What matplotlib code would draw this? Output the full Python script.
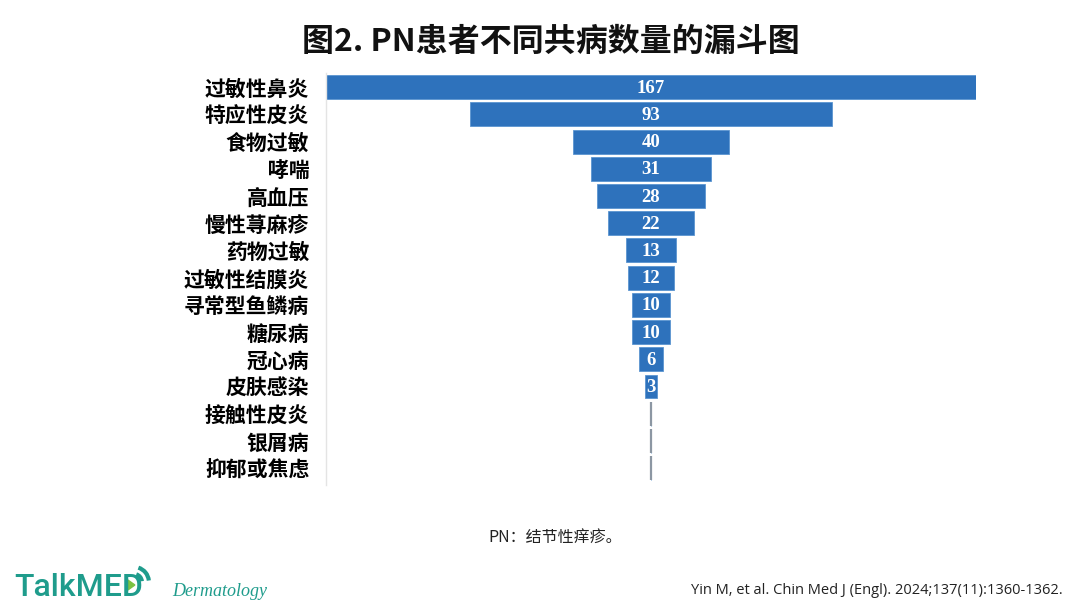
import matplotlib
matplotlib.use("Agg")
import matplotlib.pyplot as plt
from matplotlib.patches import Arc, Polygon
import numpy as np

plt.rcParams['font.family'] = ['Noto Sans CJK SC', 'DejaVu Sans']

categories = ["过敏性鼻炎", "特应性皮炎", "食物过敏", "哮喘", "高血压", "慢性荨麻疹",
              "药物过敏", "过敏性结膜炎", "寻常型鱼鳞病", "糖尿病", "冠心病", "皮肤感染",
              "接触性皮炎", "银屑病", "抑郁或焦虑"]
values = [167, 93, 40, 31, 28, 22, 13, 12, 10, 10, 6, 3, 0, 0, 0]

title = "图2. PN患者不同共病数量的漏斗图"
note = "PN：结节性痒疹。"
citation = "Yin M, et al. Chin Med J (Engl). 2024;137(11):1360-1362."

W, H = 1080, 605
fig = plt.figure(figsize=(W / 100, H / 100), dpi=100)
fig.patch.set_facecolor("white")

def fx(x):
    return x / W

def fy(y):
    return 1 - y / H

ax = fig.add_axes([fx(326), fy(485), (976 - 326) / W, (485 - 73) / H])
vals = np.array(values, dtype=float)
ypos = np.arange(len(categories))
bar_h = 0.88
ax.barh(ypos, vals, left=-vals / 2, height=bar_h, color="#2e72bc",
        edgecolor="#5b95d0", linewidth=0.6)
zero = ypos[vals == 0]
ax.vlines(np.zeros(len(zero)), zero - bar_h / 2, zero + bar_h / 2,
          color="#8c97a3", linewidth=1.6)
for y, v in zip(ypos, values):
    if v > 0:
        ax.text(0, y + 0.04, str(v), ha="center", va="center", color="white",
                fontsize=13.5, fontweight="bold", family=["Liberation Serif"])

ax.set_xlim(-83.6, 83.6)
ax.set_ylim(14.62, -0.52)
ax.set_yticks(ypos)
ax.set_yticklabels(categories, fontsize=15, fontweight="heavy", color="black")
ax.tick_params(axis="y", length=0, pad=12)
ax.set_xticks([])
for s in ["top", "right", "bottom"]:
    ax.spines[s].set_visible(False)
ax.spines["left"].set_color("#e4e4e4")
ax.spines["left"].set_linewidth(1.0)

fig.text(fx(551), fy(42), title, ha="center", va="center", fontsize=23,
         fontweight="bold", color="#111111")
fig.text(fx(555), fy(537), note, ha="center", va="center", fontsize=11.5,
         color="#222222")
fig.text(fx(1063), fy(590), citation, ha="right", va="center", fontsize=10.5,
         color="#222222", family=["Open Sans", "DejaVu Sans"])

# Logo
teal = "#1f9c8c"
green = "#7cc242"
logo = fig.text(fx(14), fy(596), "TalkMED", ha="left", va="baseline", fontsize=23,
                color=teal, fontweight="medium", family=["Roboto", "DejaVu Sans"])
fig.canvas.draw()
bb = logo.get_window_extent(renderer=fig.canvas.get_renderer())
x1 = bb.x1
tri = Polygon([[fx(x1 - 15), fy(580)], [fx(x1 - 15), fy(590)], [fx(x1 - 8), fy(585)]],
              closed=True, transform=fig.transFigure, color=green)
fig.patches.append(tri)
for r in [8, 15]:
    arc = Arc((fx(x1 - 9), fy(582)), 2 * r / W, 2 * r / H, theta1=10, theta2=80,
              transform=fig.transFigure, color=teal, linewidth=3)
    fig.patches.append(arc)
fig.text(fx(172), fy(591), "Dermatology", ha="left", va="center", fontsize=13,
         color=teal, style="italic", family=["Liberation Serif"])

fig.savefig("out.png", dpi=100, facecolor="white")
